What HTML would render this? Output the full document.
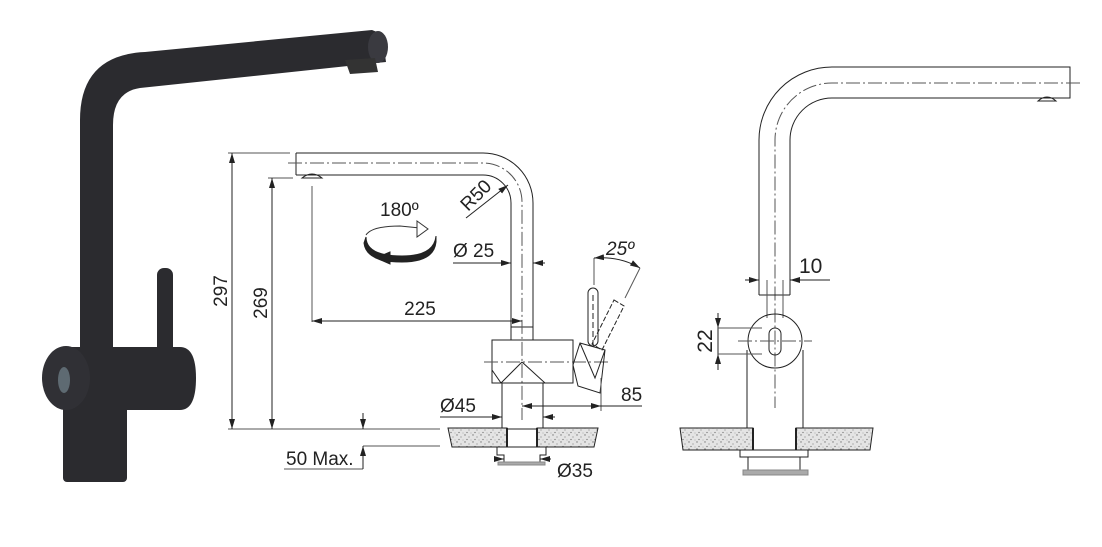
<!DOCTYPE html>
<html><head><meta charset="utf-8"><style>
html,body{margin:0;padding:0;background:#fff;}
svg{display:block;}
text{font-family:"Liberation Sans",sans-serif;fill:#222;}
</style></head><body>
<svg width="1102" height="547" viewBox="0 0 1102 547" xmlns="http://www.w3.org/2000/svg">
<defs>
<pattern id="sp" width="8" height="7" patternUnits="userSpaceOnUse">
<rect width="8" height="7" fill="#e4e4e4"/>
<circle cx="1" cy="1" r="0.7" fill="#777"/><circle cx="5" cy="3" r="0.6" fill="#888"/>
<circle cx="3" cy="5.5" r="0.6" fill="#666"/><circle cx="7" cy="6" r="0.5" fill="#999"/>
</pattern>
<marker id="a" viewBox="0 0 10 6" refX="10" refY="3" markerWidth="10" markerHeight="6" orient="auto-start-reverse" markerUnits="userSpaceOnUse"><path d="M0,0L10,3L0,6z" fill="#222"/></marker>
</defs>

<!-- Photo -->
<g fill="#2b2b2f">
<path d="M80,350 L80,120 Q80,55 145,52 L372,30 L382,34 L386,62 L140,88 Q113,92 113,125 L113,350 Z"/>
<ellipse cx="378" cy="47" rx="10" ry="16" fill="#3a3a40"/>
<path d="M345,60 L375,58 L378,72 L350,74 Z" fill="#333"/>
<rect x="157" y="268" width="16" height="90" rx="7"/>
<rect x="63" y="392" width="64" height="90" rx="4"/>
<path d="M65,347 L180,347 Q196,347 196,378 Q196,410 180,410 L65,410 Z"/>
<ellipse cx="66" cy="378" rx="24" ry="32" fill="#303035"/>
<ellipse cx="64" cy="380" rx="6" ry="13" fill="#5e6a72"/>
</g>

<g stroke="#222" stroke-width="1" fill="none">
<line x1="228" y1="153" x2="290" y2="153" stroke="#555"/>
<line x1="268" y1="178" x2="293" y2="178" stroke="#555"/>
<line x1="228" y1="429" x2="440" y2="429" stroke="#555"/>
<line x1="232" y1="153" x2="232" y2="429" marker-start="url(#a)" marker-end="url(#a)"/>
<line x1="272" y1="178" x2="272" y2="429" marker-start="url(#a)" marker-end="url(#a)"/>
<path d="M296,153 L483,153 A50,50 0 0 1 533,203 L533,340"/>
<path d="M296,175 L483,175 A28,28 0 0 1 511,203 L511,340"/>
<line x1="296" y1="153" x2="296" y2="175"/>
<line x1="511" y1="327" x2="533" y2="327"/>
<path d="M288,163 L483,163 A39,39 0 0 1 522,202 L522,420" stroke="#555" stroke-dasharray="14,3,2,3"/>
<path d="M302,178 Q312,170 322,178 Z"/>
<line x1="312" y1="186" x2="312" y2="322" stroke="#555"/>
<line x1="312" y1="321" x2="522" y2="321" marker-start="url(#a)" marker-end="url(#a)"/>
<line x1="453" y1="263" x2="511" y2="263" marker-end="url(#a)"/>
<line x1="545" y1="263" x2="533" y2="263" marker-end="url(#a)"/>
<line x1="466" y1="218" x2="508" y2="185" marker-end="url(#a)"/>
<rect x="492" y="340" width="81" height="43"/>
<path d="M492,370 L501,383 M522,362 L501,383 M522,362 L545,383"/>
<rect x="502" y="383" width="41" height="46"/>
<line x1="484" y1="362" x2="610" y2="362" stroke="#555" stroke-dasharray="14,3,2,3"/>
<rect x="588" y="288" width="10" height="58" rx="5"/>
<line x1="593" y1="295" x2="593" y2="345" stroke-dasharray="6,3"/>
<path d="M614,300 L624,306 L602,350 L592,344 Z" stroke-dasharray="5,2"/>
<path d="M580,343 L605,350 L600,393 L578,386 L573,365 Z"/>
<path d="M580,343 L595,378 L605,350"/>
<line x1="594" y1="258" x2="594" y2="285" stroke="#555"/>
<line x1="640" y1="268" x2="625" y2="298" stroke="#555"/>
<path d="M594,258 Q620,256 640,268" marker-start="url(#a)" marker-end="url(#a)"/>
<line x1="601" y1="378" x2="601" y2="411" stroke="#555"/>
<line x1="522" y1="406" x2="601" y2="406" marker-start="url(#a)" marker-end="url(#a)"/>
<line x1="601" y1="406" x2="642" y2="406"/>
<line x1="440" y1="417" x2="502" y2="417" marker-end="url(#a)"/>
<line x1="555" y1="417" x2="543" y2="417" marker-end="url(#a)"/>
<line x1="363" y1="413" x2="363" y2="429" marker-end="url(#a)"/>
<line x1="363" y1="466" x2="363" y2="446" marker-end="url(#a)"/>
<line x1="363" y1="446" x2="440" y2="446" stroke="#555"/>
<line x1="284" y1="469" x2="363" y2="469" stroke="#555"/>
<line x1="363" y1="446" x2="363" y2="469"/>
<path d="M448,428 L507,428 L507,447 L452,447 Z" fill="url(#sp)"/>
<path d="M537,428 L598,428 L594,447 L537,447 Z" fill="url(#sp)"/>
<line x1="507" y1="428" x2="507" y2="447" stroke-width="2"/>
<line x1="537" y1="428" x2="537" y2="447" stroke-width="2"/>
<path d="M497,447 L546,447 L546,455 L540,455 L540,462 L504,462 L504,455 L497,455 Z"/>
<rect x="498" y="462" width="47" height="3" fill="#aaa" stroke="#888"/>
<line x1="495" y1="459" x2="504" y2="459" marker-end="url(#a)"/>
<line x1="551" y1="459" x2="540" y2="459" marker-end="url(#a)"/>
<path d="M366,235 Q372,226 400,226 L420,228" stroke="#333"/>
<path d="M417,221 L428,229 L417,237 Z" fill="#fff" stroke="#333"/>
<path d="M366,237 Q366,256 402,256 Q434,256 436,236 L436,242 Q434,262 402,262 Q366,262 364,243 Z" fill="#222"/>
<path d="M390,252 L376,258 L390,264 Z" fill="#222"/>
</g>
<g font-size="19">
<text x="227" y="291" transform="rotate(-90 227 291)" text-anchor="middle">297</text>
<text x="267" y="303" transform="rotate(-90 267 303)" text-anchor="middle">269</text>
<text x="420" y="315" text-anchor="middle">225</text>
<text x="453" y="257">Ø 25</text>
<text x="380" y="216">180º</text>
<text x="468" y="212" transform="rotate(-45 468 212)">R50</text>
<text x="606" y="255" font-style="italic">25º</text>
<text x="621" y="401">85</text>
<text x="440" y="412">Ø45</text>
<text x="557" y="477">Ø35</text>
<text x="286" y="465">50 Max.</text>
</g>

<g stroke="#222" stroke-width="1" fill="none">
<path d="M759,295 L759,140 A73,73 0 0 1 832,67 L1070,67 L1070,98 L832,98 A42,42 0 0 0 790,140 L790,295"/>
<path d="M1080,83 L832,83 A57,57 0 0 0 775,140 L775,408" stroke="#555" stroke-dasharray="14,3,2,3"/>
<path d="M1038,101 Q1047,93 1056,101 Z"/>
<line x1="759" y1="295" x2="790" y2="295"/>
<line x1="767" y1="280" x2="767" y2="318" stroke="#555"/>
<line x1="783" y1="280" x2="783" y2="318" stroke="#555"/>
<circle cx="775" cy="341" r="27"/>
<rect x="769" y="328" width="12" height="27" rx="6"/>
<path d="M747,350 L747,428 M803,350 L803,428"/>
<line x1="738" y1="341" x2="812" y2="341" stroke="#555" stroke-dasharray="14,3,2,3"/>
<line x1="745" y1="280" x2="759" y2="280" marker-end="url(#a)"/>
<line x1="830" y1="280" x2="790" y2="280" marker-end="url(#a)"/>
<line x1="718" y1="313" x2="718" y2="328" marker-end="url(#a)"/>
<line x1="718" y1="370" x2="718" y2="354" marker-end="url(#a)"/>
<line x1="718" y1="328" x2="718" y2="354"/>
<line x1="718" y1="328" x2="762" y2="328" stroke="#555"/>
<line x1="718" y1="354" x2="762" y2="354" stroke="#555"/>
<path d="M680,428 L753,428 L753,450 L683,450 Z" fill="url(#sp)"/>
<path d="M796,428 L873,428 L870,450 L796,450 Z" fill="url(#sp)"/>
<line x1="753" y1="428" x2="753" y2="450" stroke-width="2"/>
<line x1="796" y1="428" x2="796" y2="450" stroke-width="2"/>
<rect x="740" y="450" width="68" height="7"/>
<rect x="748" y="457" width="52" height="13"/>
<rect x="743" y="470" width="65" height="5" fill="#aaa" stroke="#888"/>
</g>
<text x="799" y="273" font-size="21">10</text>
<text x="712" y="341" font-size="21" transform="rotate(-90 712 341)" text-anchor="middle">22</text>
</svg>
</body></html>
